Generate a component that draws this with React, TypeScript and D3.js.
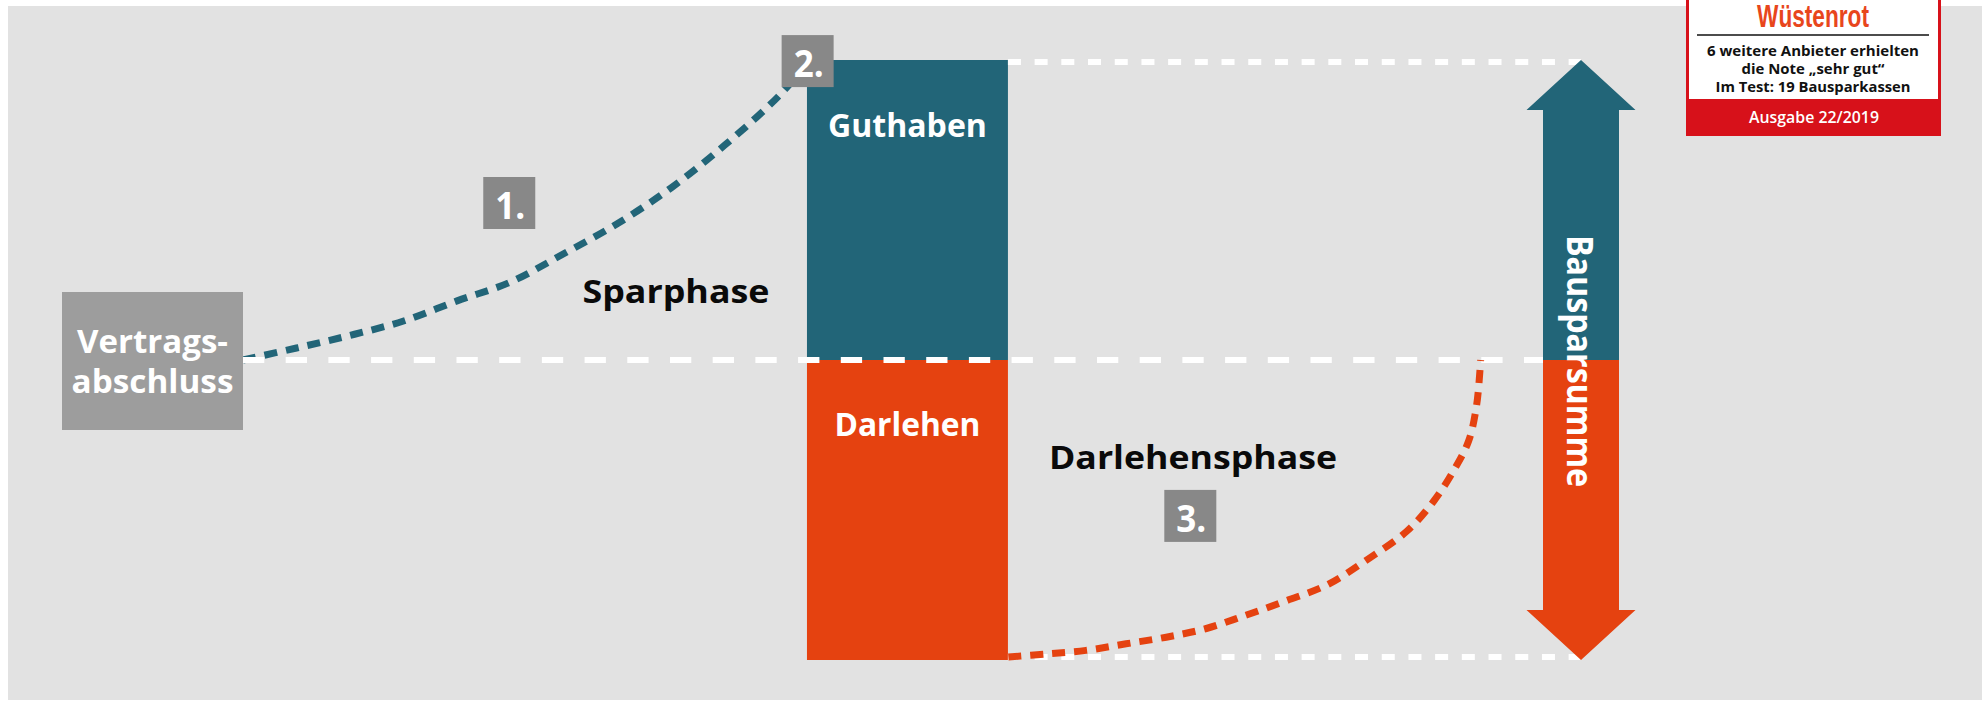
import React from 'react'
import * as d3 from 'd3'

const W = 1982
const H = 704

// timeline (0 = Vertragsabschluss, 100 = end) and balance in % of Bausparsumme
const savingsT = [0, 4, 8, 12, 16, 20, 24, 28, 32, 36, 40, 42]
const savingsV = [0, 4, 8.2, 13, 19.7, 26, 35.5, 45.5, 57.4, 71.6, 87.8, 98]
const loanT = [57.2, 60, 63, 66, 69, 72, 75, 78, 81, 84, 87, 89, 90.5, 91.6, 92.2, 92.5]
const loanV = [-99, -98, -96.8, -94.6, -92.4, -89.5, -85, -80.2, -75, -66.6, -57, -47, -36.7, -27, -15, 0]
const allotment = [42.15, 57.17]
const barLabels = ['Guthaben', 'Darlehen']
const barValues = [100, -100]
const phaseLabels = ['Sparphase', 'Darlehensphase']
const stepLabels = ['1.', '2.', '3.']
const badgeLines = ['6 weitere Anbieter erhielten', 'die Note „sehr gut“', 'Im Test: 19 Bausparkassen']

const TEAL = '#226578'
const ORANGE = '#e54210'
const FONT = "'Open Sans', sans-serif"

export default function App() {
  const x = d3.scaleLinear().domain([0, 100]).range([243, 1581])
  const y = d3.scaleLinear().domain([-100, 100]).range([660, 60])

  const line = d3
    .line<[number, number]>()
    .x((d) => x(d[0]))
    .y((d) => y(d[1]))
    .curve(d3.curveCatmullRom)

  const savingsPath = line(savingsT.map((t, i) => [t, savingsV[i]]))
  const loanPath = line(loanT.map((t, i) => [t, loanV[i]]))

  // arrow geometry
  const ax = x(100)
  const shaft = 38
  const head = 54.5
  const headLen = 50
  const upArrow = [
    [ax - shaft, y(0)],
    [ax - shaft, y(100) + headLen],
    [ax - head, y(100) + headLen],
    [ax, y(100)],
    [ax + head, y(100) + headLen],
    [ax + shaft, y(100) + headLen],
    [ax + shaft, y(0)],
  ]
  const downArrow = upArrow.map(([px, py]) => [px, y(0) + (y(0) - py)])
  const poly = (pts: number[][]) => pts.map((p) => p.join(',')).join(' ')

  // step markers: [timeline, top of box in balance units]
  const stepPos = [
    [19.9, 61],
    [42.2, 108.3],
    [70.8, -43.3],
  ]

  const bw = x(allotment[1]) - x(allotment[0])

  return (
    <svg
      width={W}
      height={H}
      style={{ position: 'absolute', left: 0, top: 0, display: 'block' }}
      fontFamily={FONT}
    >
      <rect x={0} y={0} width={W} height={H} fill="#fff" />
      <rect x={8} y={6} width={W - 8} height={694} fill="#e2e2e2" />

      {/* bars */}
      {barValues.map((v, i) => (
        <rect
          key={i}
          x={x(allotment[0])}
          y={y(Math.max(0, v))}
          width={bw}
          height={Math.abs(y(v) - y(0))}
          fill={i === 0 ? TEAL : ORANGE}
        />
      ))}

      {/* savings curve */}
      <path d={savingsPath || ''} fill="none" stroke={TEAL} strokeWidth={7} strokeDasharray="13 9" />

      {/* guide lines */}
      <line
        x1={x(0)}
        x2={ax - shaft}
        y1={y(0)}
        y2={y(0)}
        stroke="#fff"
        strokeWidth={6}
        strokeDasharray="21.3 21.4"
      />
      <line
        x1={x(allotment[1])}
        x2={ax}
        y1={y(100) + 2}
        y2={y(100) + 2}
        stroke="#fff"
        strokeWidth={6}
        strokeDasharray="13 13.7"
      />
      <line
        x1={x(allotment[1])}
        x2={ax}
        y1={y(-100) - 3}
        y2={y(-100) - 3}
        stroke="#fff"
        strokeWidth={6}
        strokeDasharray="13 13.7"
      />

      {/* loan curve */}
      <path d={loanPath || ''} fill="none" stroke={ORANGE} strokeWidth={7} strokeDasharray="13 9" />

      {/* Bausparsumme arrow */}
      <polygon points={poly(upArrow)} fill={TEAL} />
      <polygon points={poly(downArrow)} fill={ORANGE} />
      <text
        transform={`translate(${ax - 14},${y(0) + 1}) rotate(90)`}
        textAnchor="middle"
        fontSize={35}
        fontWeight={700}
        fill="#fff"
        textLength={252}
        lengthAdjust="spacingAndGlyphs"
      >
        Bausparsumme
      </text>

      {/* bar labels */}
      <text
        x={x(allotment[0]) + bw / 2}
        y={y(74.3)}
        textAnchor="middle"
        fontSize={32}
        fontWeight={700}
        fill="#fff"
        textLength={159}
        lengthAdjust="spacingAndGlyphs"
      >
        {barLabels[0]}
      </text>
      <text
        x={x(allotment[0]) + bw / 2}
        y={y(-25.3)}
        textAnchor="middle"
        fontSize={32}
        fontWeight={700}
        fill="#fff"
        textLength={146}
        lengthAdjust="spacingAndGlyphs"
      >
        {barLabels[1]}
      </text>

      {/* phase labels */}
      <text
        x={x(32.36)}
        y={y(19)}
        textAnchor="middle"
        fontSize={32}
        fontWeight={700}
        fill="#0a0a0a"
        textLength={187}
        lengthAdjust="spacingAndGlyphs"
      >
        {phaseLabels[0]}
      </text>
      <text
        x={x(71)}
        y={y(-36.3)}
        textAnchor="middle"
        fontSize={33}
        fontWeight={700}
        fill="#0a0a0a"
        textLength={288}
        lengthAdjust="spacingAndGlyphs"
      >
        {phaseLabels[1]}
      </text>

      {/* step markers */}
      {stepLabels.map((s, i) => {
        const cx = x(stepPos[i][0])
        const top = y(stepPos[i][1])
        return (
          <g key={s}>
            <rect x={cx - 26} y={top} width={52} height={52} fill="#888888" />
            <text
              x={cx + 1}
              y={top + 42}
              textAnchor="middle"
              fontSize={38}
              fontWeight={700}
              fill="#fff"
              textLength={30}
              lengthAdjust="spacingAndGlyphs"
            >
              {s}
            </text>
          </g>
        )
      })}

      {/* start box */}
      <rect x={62} y={292} width={x(0) - 62} height={138} fill="#9d9d9d" />
      <text
        x={(62 + x(0)) / 2}
        y={353}
        textAnchor="middle"
        fontSize={32}
        fontWeight={700}
        fill="#fff"
        textLength={151}
        lengthAdjust="spacingAndGlyphs"
      >
        Vertrags-
      </text>
      <text
        x={(62 + x(0)) / 2}
        y={393}
        textAnchor="middle"
        fontSize={32}
        fontWeight={700}
        fill="#fff"
        textLength={162}
        lengthAdjust="spacingAndGlyphs"
      >
        abschluss
      </text>

      {/* test badge */}
      <g>
        <rect x={1686} y={-5} width={255} height={141} fill="#d7111a" />
        <rect x={1689} y={-5} width={249} height={104} fill="#fff" />
        <text
          x={1813}
          y={27}
          textAnchor="middle"
          fontFamily="'Liberation Sans Narrow', sans-serif"
          fontSize={31}
          fontWeight={700}
          fill="#e8461c"
          textLength={112}
          lengthAdjust="spacingAndGlyphs"
        >
          Wüstenrot
        </text>
        <line x1={1697} x2={1929} y1={35} y2={35} stroke="#111" strokeWidth={1.5} />
        {badgeLines.map((t, i) => (
          <text
            key={t}
            x={1813}
            y={56 + i * 18}
            textAnchor="middle"
            fontSize={14.5}
            fontWeight={700}
            fill="#111"
            textLength={[212, 143, 195][i]}
            lengthAdjust="spacingAndGlyphs"
          >
            {t}
          </text>
        ))}
        <text
          x={1814}
          y={123}
          textAnchor="middle"
          fontSize={15.5}
          fontWeight={600}
          fill="#fff"
          textLength={130}
          lengthAdjust="spacingAndGlyphs"
        >
          Ausgabe 22/2019
        </text>
      </g>
    </svg>
  )
}
